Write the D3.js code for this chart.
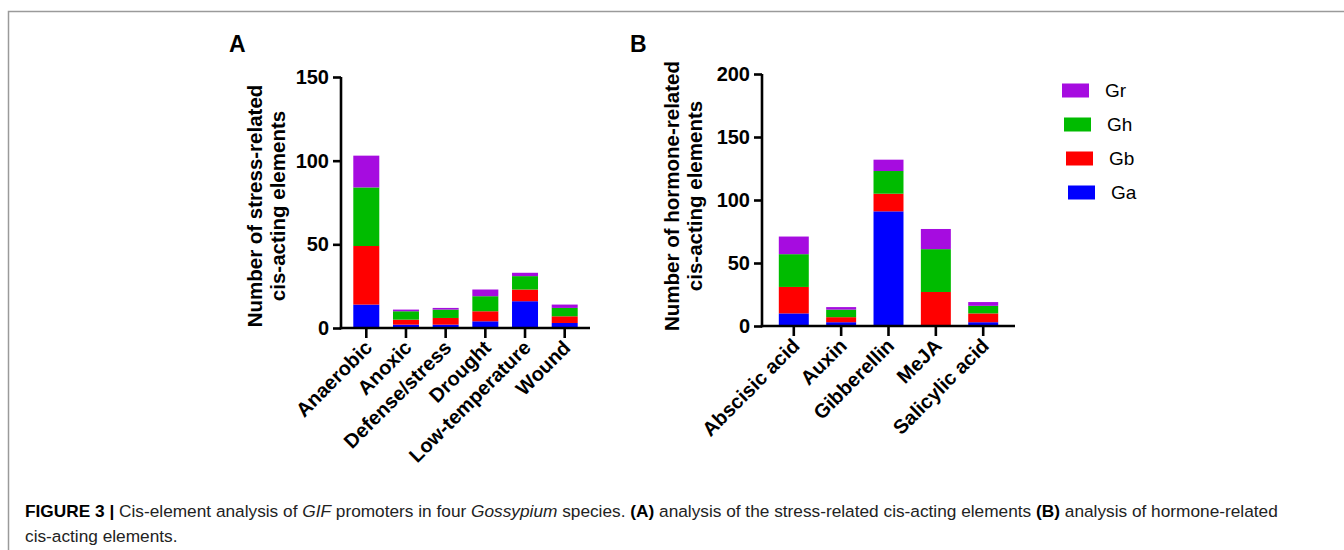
<!DOCTYPE html>
<html>
<head>
<meta charset="utf-8">
<script src="https://cdn.jsdelivr.net/npm/d3@7"></script>
<style>
  html, body { margin: 0; padding: 0; background: #fff; }
  svg { display: block; }
</style>
</head>
<body>
<svg id="chart" width="1344" height="550"></svg>
<script>
// ---------- data ----------
const seriesKeys = ["Ga", "Gb", "Gh", "Gr"];
const legendOrder = ["Gr", "Gh", "Gb", "Ga"];

const categoriesA = ["Anaerobic", "Anoxic", "Defense/stress", "Drought", "Low-temperature", "Wound"];
const GaA = [14, 2, 2, 4, 16, 3];
const GbA = [35, 3, 4, 6, 7, 4];
const GhA = [35, 5, 5, 9, 8, 5];
const GrA = [19, 1, 1, 4, 2, 2];
const ticksA = [0, 50, 100, 150];

const categoriesB = ["Abscisic acid", "Auxin", "Gibberellin", "MeJA", "Salicylic acid"];
const GaB = [10, 3, 91, 0, 3];
const GbB = [21, 4, 14, 27, 7];
const GhB = [26, 6, 18, 34, 6];
const GrB = [14, 2, 9, 16, 3];
const ticksB = [0, 50, 100, 150, 200];

const colors = { Ga: "#0000ff", Gb: "#ff0000", Gh: "#00bb00", Gr: "#a60ce0" };

// ---------- drawing ----------
const svg = d3.select("#chart");
const BOLD = "Liberation Sans, Arial, Helvetica, sans-serif";

// frame
svg.append("path")
  .attr("d", "M1344,11.5 H8.5 V550")
  .attr("fill", "none").attr("stroke", "#9a9a9a").attr("stroke-width", 1.5);

function panel(opt) {
  const rows = opt.categories.map((c, i) => ({
    cat: c, Ga: opt.Ga[i], Gb: opt.Gb[i], Gh: opt.Gh[i], Gr: opt.Gr[i]
  }));
  const stacked = d3.stack().keys(seriesKeys)(rows);

  const x = d3.scaleBand().domain(opt.categories)
    .range([opt.x0, opt.x1]).paddingInner(opt.pi).paddingOuter(opt.po);
  const y = d3.scaleLinear().domain([0, opt.ymax]).range([opt.y0, opt.y1]);

  const g = svg.append("g");

  // bars
  g.selectAll("g.layer").data(stacked).join("g")
    .attr("class", "layer")
    .attr("fill", d => colors[d.key])
    .selectAll("rect").data(d => d).join("rect")
      .attr("x", d => x(d.data.cat))
      .attr("width", x.bandwidth())
      .attr("y", d => y(d[1]))
      .attr("height", d => Math.max(0, y(d[0]) - y(d[1])));

  // y axis
  const yAxis = d3.axisLeft(y).tickValues(opt.ticks).tickSize(8).tickPadding(4).tickSizeOuter(0);
  const ya = g.append("g").attr("transform", `translate(${opt.x0},0)`).call(yAxis);
  ya.select(".domain").attr("stroke", "#000").attr("stroke-width", 2.6)
    .attr("d", `M0,${opt.y1}V${opt.y0 + 1.3}`);
  ya.selectAll(".tick line").attr("stroke", "#000").attr("stroke-width", 2.6);
  ya.selectAll(".tick text").attr("font-family", BOLD).attr("font-weight", "bold")
    .attr("font-size", 20).attr("fill", "#000");

  // x axis
  const xAxis = d3.axisBottom(x).tickSize(10).tickSizeOuter(0).tickFormat("");
  const xa = g.append("g").attr("transform", `translate(0,${opt.y0})`).call(xAxis);
  xa.select(".domain").attr("stroke", "#000").attr("stroke-width", 2.6)
    .attr("d", `M${opt.x0 - 1.3},0H${opt.x1}`);
  xa.selectAll(".tick line").attr("stroke", "#000").attr("stroke-width", 2.6);

  // category labels (rotated)
  g.append("g").selectAll("text").data(opt.categories).join("text")
    .attr("transform", d => `translate(${x(d) + x.bandwidth() / 2 + 7},${opt.y0 + 21}) rotate(-45)`)
    .attr("text-anchor", "end")
    .attr("font-family", BOLD).attr("font-weight", "bold").attr("font-size", 20)
    .attr("fill", "#000")
    .text(d => d);

  // y title
  const tt = g.append("text")
    .attr("transform", `translate(${opt.titleX},${opt.titleY}) rotate(-90)`)
    .attr("text-anchor", "middle")
    .attr("font-family", BOLD).attr("font-weight", "bold").attr("font-size", 20.5)
    .attr("fill", "#000");
  tt.append("tspan").attr("x", 0).attr("dy", 0).text(opt.title[0]);
  tt.append("tspan").attr("x", 0).attr("dy", 23).text(opt.title[1]);

  // panel letter
  g.append("text").attr("x", opt.letterX).attr("y", 52)
    .attr("font-family", BOLD).attr("font-weight", "bold").attr("font-size", 23)
    .attr("fill", "#000").text(opt.letter);
}

panel({
  categories: categoriesA, Ga: GaA, Gb: GbA, Gh: GhA, Gr: GrA, ticks: ticksA, ymax: 150,
  x0: 341, x1: 590, y0: 328, y1: 77, pi: 0.345, po: 0.31,
  title: ["Number of stress-related", "cis-acting elements"], titleX: 262, titleY: 206,
  letter: "A", letterX: 229
});

panel({
  categories: categoriesB, Ga: GaB, Gb: GbB, Gh: GhB, Gr: GrB, ticks: ticksB, ymax: 200,
  x0: 762, x1: 1015, y0: 326, y1: 74, pi: 0.367, po: 0.355,
  title: ["Number of hormone-related", "cis-acting elements"], titleX: 679, titleY: 196,
  letter: "B", letterX: 630
});

// legend
const legendX = [1062, 1064, 1066, 1068];
const lg = svg.append("g");
legendOrder.forEach((k, i) => {
  const yy = 83.5 + i * 34;
  lg.append("rect").attr("x", legendX[i]).attr("y", yy).attr("width", 27).attr("height", 14)
    .attr("fill", colors[k]);
  lg.append("text").attr("x", legendX[i] + 43).attr("y", yy + 7).attr("dy", "0.36em")
    .attr("font-family", "Liberation Sans, Arial, sans-serif").attr("font-size", 19)
    .attr("fill", "#000").text(k);
});

// caption
const CAP = "Liberation Sans Narrow, Liberation Sans, Arial, sans-serif";
const cap1 = svg.append("text").attr("x", 0).attr("y", 517)
  .attr("font-family", CAP).attr("font-size", 16.5).attr("fill", "#222");
cap1.append("tspan").attr("font-weight", "bold").attr("fill", "#000").text("FIGURE 3 | ");
cap1.append("tspan").text("Cis-element analysis of ");
cap1.append("tspan").attr("font-style", "italic").text("GIF");
cap1.append("tspan").text(" promoters in four ");
cap1.append("tspan").attr("font-style", "italic").text("Gossypium");
cap1.append("tspan").text(" species. ");
cap1.append("tspan").attr("font-weight", "bold").attr("fill", "#000").text("(A)");
cap1.append("tspan").text(" analysis of the stress-related cis-acting elements ");
cap1.append("tspan").attr("font-weight", "bold").attr("fill", "#000").text("(B)");
cap1.append("tspan").text(" analysis of hormone-related");
const cap2 = svg.append("text").attr("x", 0).attr("y", 542)
  .attr("font-family", CAP).attr("font-size", 16.5).attr("fill", "#222")
  .text("cis-acting elements.");
const w1 = cap1.node().getComputedTextLength();
const sx = 1254 / w1;
cap1.attr("transform", `translate(25,0) scale(${sx},1)`);
cap2.attr("transform", `translate(25,0) scale(${sx},1)`);
</script>
</body>
</html>
